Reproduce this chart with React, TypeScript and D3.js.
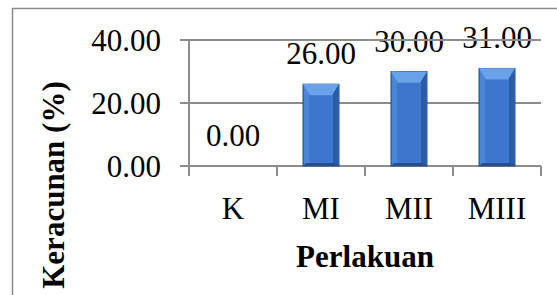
import React from 'react'
import * as d3 from 'd3'

const categories = ['K', 'MI', 'MII', 'MIII']
const values = [0, 26, 30, 31]
const yTicks = [0, 20, 40]

const serif = { fontFamily: "'Liberation Serif'", fontSize: 31 }
const serifBold = { fontFamily: "'Liberation Serif'", fontSize: 31, fontWeight: 'bold' as const }

export default function App() {
  const x = d3.scaleBand<string>().domain(categories).range([189, 541]).padding(0)
  const y = d3.scaleLinear().domain([0, 40]).range([166, 40])
  const barW = x.bandwidth() * 0.41
  const fmt = d3.format('.2f')
  const bev = 7
  const mid = (c: string) => (x(c) as number) + x.bandwidth() / 2

  return (
    <svg width={557} height={295} style={{ position: 'absolute', left: 0, top: 0, background: '#fff' }}>
      {yTicks.map(t => (
        <text key={'t' + t} x={161} y={y(t) + 11} textAnchor="end" fontFamily="Liberation Serif" fontSize={31}>{fmt(t)}</text>
      ))}
      {categories.map((c, i) => (
        <text key={'v' + c} x={mid(c)} y={y(values[i]) - 20} textAnchor="middle" style={serif}>{fmt(values[i])}</text>
      ))}
      {categories.map(c => (
        <text key={'c' + c} x={mid(c)} y={219} textAnchor="middle" style={serif}>{c}</text>
      ))}
      <text x={365} y={267} textAnchor="middle" style={serifBold}>Perlakuan</text>
      <text transform="translate(64,185) rotate(-90)" textAnchor="middle" style={serifBold}>Keracunan (%)</text>

      <line x1={12.5} x2={12.5} y1={8} y2={295} stroke="#8a8a8a" strokeWidth={1.5} />
      <line x1={12} x2={557} y1={8.5} y2={8.5} stroke="#8a8a8a" strokeWidth={1.5} />

      {yTicks.map(t => (
        <line key={'g' + t} x1={180} x2={541} y1={y(t)} y2={y(t)} stroke="#8c8c8c" strokeWidth={2} />
      ))}
      <line x1={189} x2={189} y1={y(40)} y2={y(0) + 10} stroke="#8c8c8c" strokeWidth={2} />
      {categories.map(c => (
        <line key={'k' + c} x1={(x(c) as number) + x.bandwidth()} x2={(x(c) as number) + x.bandwidth()} y1={y(0)} y2={y(0) + 10} stroke="#8c8c8c" strokeWidth={2} />
      ))}

      {categories.map((c, i) => {
        const x0 = mid(c) - barW / 2
        const x1 = mid(c) + barW / 2
        const yt = y(values[i])
        const yb = y(0)
        if (yb - yt < 1) return null
        return (
          <g key={'b' + c}>
            <rect x={x0} y={yt} width={barW} height={yb - yt} fill="#3d76ca" stroke="#1d3f78" strokeWidth={0.8} />
            <rect x={x0 + 1} y={yt} width={5} height={yb - yt} fill="#4a86d8" />
            <rect x={x1 - 6} y={yt} width={5} height={yb - yt} fill="#2c5ca8" />
            <polygon points={`${x0},${yt} ${x1},${yt} ${x1 - bev},${yt + bev * 1.6} ${x0 + bev},${yt + bev * 1.6}`} fill="#6aa2ea" />
            <polygon points={`${x0},${yb} ${x1},${yb} ${x1 - 3},${yb - 3} ${x0 + 3},${yb - 3}`} fill="#27508f" />
          </g>
        )
      })}
    </svg>
  )
}
